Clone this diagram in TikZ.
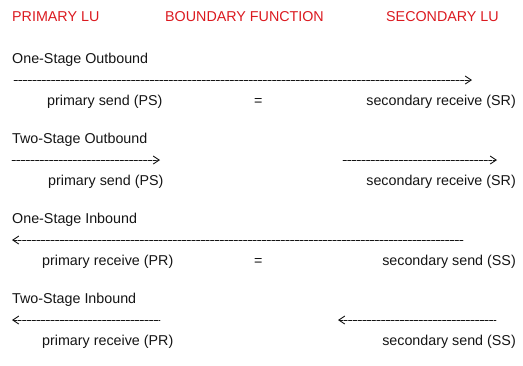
\documentclass[tikz,border=0pt]{standalone}
\usepackage{fontspec}
\setmainfont{Liberation Sans}
\usetikzlibrary{arrows.meta}
\definecolor{lured}{rgb}{0.86,0.1,0.12}
\definecolor{ink}{rgb}{0.08,0.08,0.08}
\tikzset{
    lbl/.style = {anchor=base west, inner sep=0pt, text=ink, font=\fontsize{14.3}{17}\selectfont},
    rlbl/.style = {lbl, anchor=base east},
    hdr/.style = {lbl, text=lured},
    flowr/.style = {draw=ink, line width=0.9pt, dash pattern=on 3.3pt off 1.4pt, -{Straight Barb[length=6pt,width=8pt]}},
    flowl/.style = {draw=ink, line width=0.9pt, dash pattern=on 3.3pt off 1.4pt, {Straight Barb[length=6pt,width=8pt]}-}
}
\begin{document}
\begin{tikzpicture}[x=1pt,y=-1pt, line cap=round,line join=round]
\useasboundingbox (0,0) rectangle (523,365);
% headers
\node[hdr] (hprim) at (12,21.7) {PRIMARY LU};
\node[hdr] (hbound) at (165,21.7) {BOUNDARY FUNCTION};
\node[hdr] (hsec) at (386,21.7) {SECONDARY LU};
% one-stage outbound
\node[lbl] (t1) at (12,63) {One-Stage Outbound};
\coordinate (a1s) at (14,80);
\coordinate (a1e) at (472,80);
\draw[flowr] (a1s) -- (a1e);
\node[lbl] (ps1) at (47,105) {primary send (PS)};
\node[lbl] (eq1) at (254,105) {=};
\node[rlbl] (sr1) at (516,105) {secondary receive (SR)};
% two-stage outbound
\node[lbl] (t2) at (12,143) {Two-Stage Outbound};
\coordinate (a2s) at (12,160);
\coordinate (a2e) at (160,160);
\coordinate (b2s) at (343,160);
\coordinate (b2e) at (497,160);
\draw[flowr] (a2s) -- (a2e);
\draw[flowr] (b2s) -- (b2e);
\node[lbl] (ps2) at (48,185) {primary send (PS)};
\node[rlbl] (sr2) at (516,185) {secondary receive (SR)};
% one-stage inbound
\node[lbl] (t3) at (12,223) {One-Stage Inbound};
\coordinate (a3s) at (12,240);
\coordinate (a3e) at (463,240);
\draw[flowl] (a3s) -- (a3e);
\node[lbl] (pr3) at (42,265) {primary receive (PR)};
\node[lbl] (eq3) at (254,265) {=};
\node[rlbl] (ss3) at (516,265) {secondary send (SS)};
% two-stage inbound
\node[lbl] (t4) at (12,303) {Two-Stage Inbound};
\coordinate (a4s) at (12,320);
\coordinate (a4e) at (160,320);
\coordinate (b4s) at (338,320);
\coordinate (b4e) at (496,320);
\draw[flowl] (a4s) -- (a4e);
\draw[flowl] (b4s) -- (b4e);
\node[lbl] (pr4) at (42,345) {primary receive (PR)};
\node[rlbl] (ss4) at (516,345) {secondary send (SS)};
\end{tikzpicture}
\end{document}
